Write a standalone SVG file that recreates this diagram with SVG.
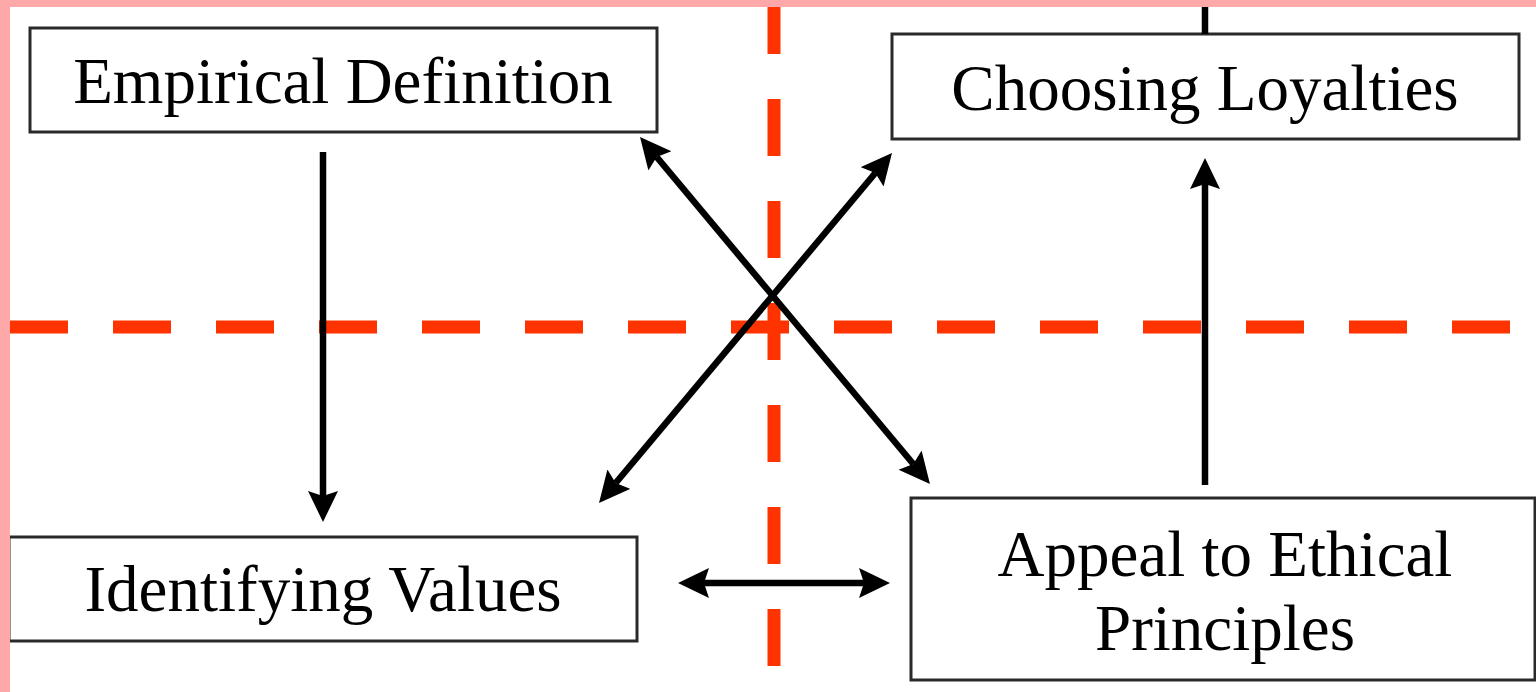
<svg xmlns="http://www.w3.org/2000/svg" width="1536" height="692" viewBox="0 0 1536 692">
  <style>
    .box { fill: #ffffff; stroke: #2a2a2a; stroke-width: 3; }
    .label { font-family: "Liberation Serif", "Times New Roman", serif; font-size: 65px; fill: #000000; text-anchor: middle; }
    .link { stroke: #000000; stroke-width: 6.5; fill: none; }
    .guide { stroke: #ff3300; stroke-width: 13; fill: none; }
    .frame { fill: #ffa8aa; }
  </style>
  <defs>
    <marker id="head" markerUnits="userSpaceOnUse" markerWidth="34" markerHeight="32" refX="5" refY="15" orient="auto-start-reverse">
      <path d="M0,0 L31,15 L0,30 L5,15 z" fill="#000000"/>
    </marker>
  </defs>

  <rect width="1536" height="692" fill="#ffffff"/>

  <!-- dashed quadrant guides -->
  <g id="guides">
    <line class="guide" x1="774" y1="-3" x2="774" y2="692" stroke-dasharray="57 45"/>
    <line class="guide" x1="10" y1="327" x2="1536" y2="327" stroke-dasharray="58 45"/>
  </g>

  <!-- nodes -->
  <g id="empirical-definition">
    <rect class="box" x="30" y="28" width="627" height="104"/>
    <text class="label" x="343" y="103">Empirical Definition</text>
  </g>
  <g id="choosing-loyalties">
    <rect class="box" x="892" y="34" width="627" height="105"/>
    <text class="label" x="1205" y="110">Choosing Loyalties</text>
  </g>
  <g id="identifying-values">
    <rect class="box" x="9" y="537" width="628" height="104"/>
    <text class="label" x="323" y="611">Identifying Values</text>
  </g>
  <g id="appeal-to-ethical-principles">
    <rect class="box" x="911" y="498" width="624" height="182"/>
    <text class="label" x="1225" y="576">Appeal to Ethical</text>
    <text class="label" x="1225" y="650">Principles</text>
  </g>

  <!-- connectors -->
  <g id="connectors">
    <line class="link" x1="323" y1="152" x2="323" y2="496" marker-end="url(#head)"/>
    <line class="link" x1="1205" y1="485" x2="1205" y2="184" marker-end="url(#head)"/>
    <line class="link" x1="704" y1="583" x2="864" y2="583" marker-start="url(#head)" marker-end="url(#head)"/>
    <line class="link" x1="656.7" y1="157" x2="913.3" y2="464" marker-start="url(#head)" marker-end="url(#head)"/>
    <line class="link" x1="615.7" y1="483" x2="875.3" y2="173" marker-start="url(#head)" marker-end="url(#head)"/>
    <line class="link" x1="1205" y1="0" x2="1205" y2="34" stroke-width="8"/>
  </g>

  <!-- page frame -->
  <rect class="frame" x="0" y="0" width="1536" height="7"/>
  <rect class="frame" x="0" y="0" width="10" height="692"/>
</svg>
